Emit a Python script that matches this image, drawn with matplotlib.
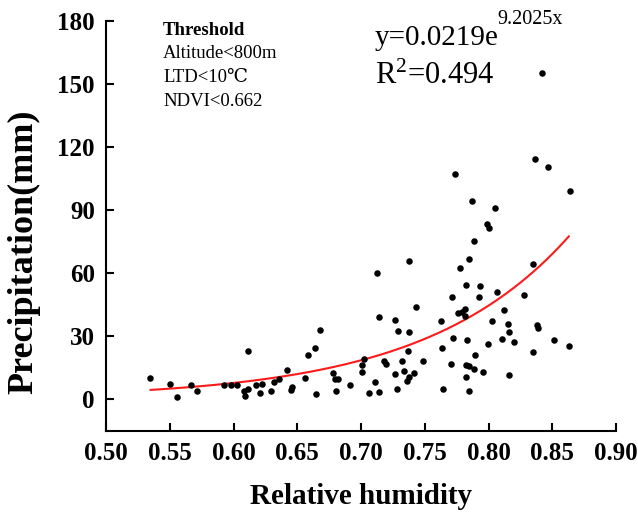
import numpy as np
import matplotlib
matplotlib.use("Agg")
import matplotlib.pyplot as plt

plt.rcParams['font.family'] = ['Liberation Serif', 'DejaVu Serif']
plt.rcParams['mathtext.fontset'] = 'custom'
plt.rcParams['mathtext.rm'] = 'Liberation Serif'
plt.rcParams['mathtext.it'] = 'Liberation Serif:italic'
plt.rcParams['mathtext.bf'] = 'Liberation Serif:bold'

# Scatter data: relative humidity vs precipitation (mm)
humidity = [
    0.5347, 0.5499, 0.5557, 0.5669, 0.5716, 0.5925, 0.5977, 0.6030, 0.6085, 0.6090,
    0.6111, 0.6114, 0.6177, 0.6211, 0.6224, 0.6294, 0.6315, 0.6360, 0.6417, 0.6448,
    0.6462, 0.6564, 0.6585, 0.6637, 0.6648, 0.6679, 0.6778, 0.6794, 0.6820, 0.6805,
    0.6915, 0.7006, 0.7009, 0.7027, 0.7064, 0.7108, 0.7139, 0.7145, 0.7182, 0.7197,
    0.7268, 0.7268, 0.7281, 0.7291, 0.7323, 0.7341, 0.7364, 0.7367, 0.7378, 0.7380,
    0.7419, 0.7433, 0.7488, 0.7624, 0.7634, 0.7642, 0.7702, 0.7715, 0.7725, 0.7759,
    0.7791, 0.7814, 0.7814, 0.7820, 0.7820, 0.7825, 0.7835, 0.7846, 0.7849, 0.7885,
    0.7896, 0.7927, 0.7935, 0.7955, 0.7998, 0.8029, 0.8065, 0.8102, 0.8120, 0.8155,
    0.8160, 0.8163, 0.8197, 0.8275, 0.8348, 0.8377, 0.8390, 0.8513, 0.8628,
    0.7129, 0.7380, 0.7736, 0.7773, 0.7846, 0.7867, 0.7885, 0.7987, 0.8000, 0.8048,
    0.8346, 0.8367, 0.8469, 0.8642, 0.8416,
]
precip = [
    9.9, 7.3, 1.1, 6.5, 3.7, 6.8, 6.8, 6.8, 3.8, 1.4,
    4.9, 22.8, 6.7, 3.0, 7.0, 4.0, 8.2, 9.5, 13.8, 4.3,
    5.6, 10.1, 20.8, 24.4, 2.5, 32.8, 12.5, 9.5, 9.5, 3.7,
    6.5, 16.0, 12.9, 19.0, 2.9, 7.9, 3.2, 38.9, 17.9, 16.8,
    12.0, 37.5, 4.8, 32.4, 17.9, 13.5, 8.6, 22.8, 31.9, 10.5,
    12.4, 43.8, 17.9, 37.3, 24.1, 4.6, 16.8, 48.6, 29.2, 40.8,
    41.6, 42.8, 39.7, 54.1, 10.6, 16.2, 28.2, 15.9, 3.7, 14.4,
    20.8, 48.6, 53.8, 12.7, 26.3, 37.0, 50.8, 28.4, 42.4, 35.6,
    32.0, 11.3, 27.0, 49.5, 22.2, 35.1, 33.9, 28.2, 25.2,
    60.0, 65.8, 107.1, 62.4, 66.5, 94.2, 75.1, 83.2, 81.5, 91.1,
    64.4, 114.1, 110.3, 99.2, 155.0,
]

# Drawn exponential trend line (as rendered in the figure)
fit_a = 0.0386
fit_b = 8.81
fit_xmin = 0.535
fit_xmax = 0.863

x_ticks = [0.50, 0.55, 0.60, 0.65, 0.70, 0.75, 0.80, 0.85, 0.90]
y_ticks = [0, 30, 60, 90, 120, 150, 180]

fig = plt.figure(figsize=(6.38, 5.13), dpi=100)
ax = fig.add_axes([106/638, 1 - 430.7/513, (616 - 106)/638, (430.7 - 20.7)/513])

ax.scatter(humidity, precip, s=22, color='black', zorder=3, linewidths=0)
xf = np.linspace(fit_xmin, fit_xmax, 200)
ax.plot(xf, fit_a * np.exp(fit_b * xf), color='#ff1a1a', lw=1.5, zorder=2)

ax.set_xlim(0.5, 0.9)
ax.set_ylim(-15.1, 180)
ax.set_xticks(x_ticks)
ax.set_xticklabels([f"{v:.2f}" for v in x_ticks])
ax.set_yticks(y_ticks)
ax.set_yticklabels([str(v) for v in y_ticks])

for s in ['top', 'right']:
    ax.spines[s].set_visible(False)
for s in ['left', 'bottom']:
    ax.spines[s].set_linewidth(1.5)

ax.tick_params(direction='in', length=6, width=1.5, labelsize=18, pad=8)
for lab in ax.get_xticklabels() + ax.get_yticklabels():
    lab.set_fontweight('bold')

def px(xp, yp):
    return fig.transFigure.inverted().transform((xp, 513 - yp))

fig.text(*px(361, 496), 'Relative humidity', fontsize=21, fontweight='bold',
         ha='center', va='center')
fig.text(*px(24, 252), 'Precipitation(mm)', fontsize=26, fontweight='bold',
         ha='center', va='center', rotation=90)

fig.text(*px(163, 30), 'Threshold', fontsize=13.5, fontweight='bold', va='center')
fig.text(*px(163, 53), 'Altitude<800m', fontsize=13.5, va='center')
fig.text(*px(163, 77), 'LTD<10\u2103', fontsize=13.5, va='center')
fig.text(*px(163, 101), 'NDVI<0.662', fontsize=13.5, va='center')

fig.text(*px(375, 38), 'y=0.0219e', fontsize=21, va='center')
fig.text(*px(497, 20), '9.2025x', fontsize=14.5, va='center')
fig.text(*px(375, 76), r'R$^{\mathrm{2}}$=0.494', fontsize=22, va='center')

fig.savefig('out.png', dpi=100)
